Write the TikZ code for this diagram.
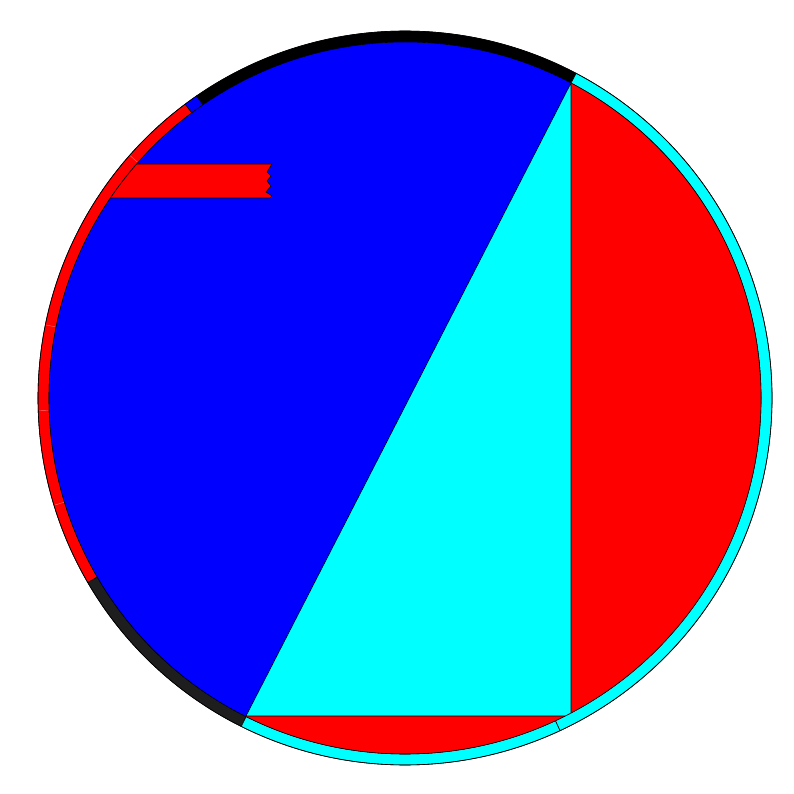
\documentclass[tikz,border=0pt]{standalone}
\usepackage{tikz}
\definecolor{ringdark}{HTML}{1E1E1E}
\definecolor{aqua}{RGB}{0,255,255}
\tikzset{
  piece/.style={draw=black,line width=0.6pt},
  seam/.style={draw=red!55!white,line width=0.4pt}
}
\newcommand{\Rout}{367}
\newcommand{\Rin}{356}

\begin{document}
\begin{tikzpicture}[x=1pt,y=1pt]
\useasboundingbox (-405,-396) rectangle (389,398);
% outer ring, one sector per arc
\foreach \a/\b/\c in {62.2/124.6/black,124.6/126.8/blue,126.8/210.2/red,210.2/243.5/ringdark,243.5/295/aqua,295/422.2/aqua}
  \filldraw[piece,fill=\c] (\a:\Rout) arc[start angle=\a,end angle=\b,radius=\Rout]
    -- (\b:\Rin) arc[start angle=\b,end angle=\a,radius=\Rin] -- cycle;
\foreach \s in {138.6,168.5,182,197}
  \draw[seam] (\s:\Rin+0.8) -- (\s:\Rout-0.8);
% inscribed triangle
\coordinate (A) at (166,315);
\coordinate (B) at (-159,-318);
\coordinate (C) at (166,-318);
\begin{scope}
  \clip (0,0) circle[radius=\Rin];
  \fill[blue] (0,0) circle[radius=\Rin];
  \fill[aqua] (A) -- (B) -- (C) -- cycle;
  \fill[red] (C) rectangle (400,400);
  \fill[red] (-400,-400) rectangle (C);
  % torn strip
  \filldraw[piece,fill=red] (-330,234) -- (-133,234) -- (-138,226) -- (-134,222) -- (-138,217)
    -- (-134,212) -- (-139,206) -- (-133,202) -- (-135,200) -- (-330,200) -- cycle;
  \draw[piece] (A) -- (B) -- (C) -- cycle;
\end{scope}
\draw[piece] (0,0) circle[radius=\Rout];
\draw[piece] (0,0) circle[radius=\Rin];
\end{tikzpicture}
\end{document}
